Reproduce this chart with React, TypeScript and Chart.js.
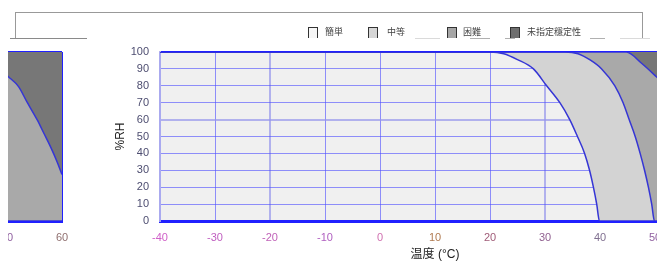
import React, { useEffect, useRef } from 'react';
import { Chart, registerables } from 'chart.js';

Chart.register(...registerables);

// ---- data ----
const X_MIN = -40;
const X_MAX = 60;
const X_STEP = 10;
const Y_MIN = 0;
const Y_MAX = 100;
const Y_STEP = 10;

// boundary 簡単 / 中等
const CURVE1_T = [-40, 20, 22.5, 25, 27.9, 30.3, 32.7, 34.5, 35.9, 37.2, 38.1, 38.8, 39.4, 39.9, 60];
const CURVE1_RH = [100, 100, 99, 95.5, 90, 80, 70, 60, 50, 40, 30, 20, 10, 0, 0];
// boundary 中等 / 困難
const CURVE2_T = [-40, 33.6, 36, 38.2, 40.3, 42.7, 44.2, 45.3, 46.4, 47.3, 48.1, 48.8, 49.4, 49.9, 60];
const CURVE2_RH = [100, 100, 99, 95.3, 90, 80, 70, 60, 50, 40, 30, 20, 10, 0, 0];
// boundary 困難 / 未指定穩定性
const CURVE3_T = [-40, 44.8, 47.5, 50.2, 52.1, 53.6, 55.5, 56.7, 57.9, 59.1, 60];
const CURVE3_RH = [100, 100, 93.5, 85.5, 79.5, 70.6, 59.8, 51.9, 44, 35.1, 27.5];

const SERIES_LABELS = ['簡単', '中等', '困難', '未指定穩定性'];
const X_TITLE = '温度 (°C)';
const Y_TITLE = '%RH';

// ---- styles ----
const FONT = "'Liberation Sans', Arial, 'Noto Sans CJK JP', sans-serif";
const REGION_COLORS = ['#f0f0f0', '#d3d3d3', '#a9a9a9', '#777777'];
const LEGEND_FILLS = ['#f6f6f6', '#d6d6d6', '#a6a6a6', '#6e6e6e'];
const X_TICK_COLORS = ['#d060c8', '#c060c0', '#c062b8', '#b060c0', '#d070b0', '#b07a50', '#a05c78', '#906090', '#807090', '#9060a0', '#907070'];
const CURVE_COLOR = '#3535d5';
const BLUE = '#2020ff';
const GRID = 'rgba(80,80,255,0.62)';
const GRID_LIGHT = 'rgba(150,150,235,0.7)';

const bgPlugin = {
  id: 'plotBg',
  beforeDraw(chart: any) {
    const { ctx, chartArea } = chart;
    if (!chartArea) return;
    ctx.save();
    ctx.fillStyle = REGION_COLORS[0];
    ctx.fillRect(chartArea.left, chartArea.top, chartArea.right - chartArea.left, chartArea.bottom - chartArea.top);
    ctx.restore();
  },
};

function pts(t: number[], rh: number[]) {
  return t.map((x, i) => ({ x, y: rh[i] }));
}

function makeConfig(): any {
  const ds = (label: string, t: number[], rh: number[], color: string, order: number) => ({
    label,
    data: pts(t, rh),
    fill: 'end',
    backgroundColor: color,
    borderColor: CURVE_COLOR,
    borderWidth: 1.5,
    pointRadius: 0,
    order,
    cubicInterpolationMode: 'monotone',
  });
  return {
    type: 'line',
    data: {
      datasets: [
        ds(SERIES_LABELS[1], CURVE1_T, CURVE1_RH, REGION_COLORS[1], 3),
        ds(SERIES_LABELS[2], CURVE2_T, CURVE2_RH, REGION_COLORS[2], 2),
        ds(SERIES_LABELS[3], CURVE3_T, CURVE3_RH, REGION_COLORS[3], 1),
      ],
    },
    options: {
      responsive: false,
      animation: false,
      events: [],
      layout: { padding: { left: 110, right: 10, top: 52, bottom: 0 } },
      plugins: { legend: { display: false }, tooltip: { enabled: false } },
      scales: {
        x: {
          type: 'linear',
          min: X_MIN,
          max: X_MAX,
          z: 1,
          afterFit: (s: any) => {
            s.height = 43;
            s.paddingLeft = 0;
            s.paddingRight = 0;
          },
          ticks: {
            stepSize: X_STEP,
            padding: 10,
            maxRotation: 0,
            color: (c: any) => X_TICK_COLORS[c.index % X_TICK_COLORS.length],
            font: { size: 11, family: FONT },
          },
          grid: {
            drawTicks: false,
            color: (c: any) => {
              const v = c.tick?.value;
              if (v === X_MAX) return BLUE;
              if (v === -40 || v === -20 || v === 30) return GRID_LIGHT;
              return GRID;
            },
            lineWidth: (c: any) => {
              const v = c.tick?.value;
              if (v === X_MAX || v === -40 || v === -20 || v === 30) return 2;
              return 1;
            },
          },
          border: { color: BLUE, width: 3 },
          title: {
            display: true,
            text: X_TITLE,
            color: '#222',
            font: { size: 12, family: FONT },
            padding: { top: 4, bottom: 2 },
          },
        },
        y: {
          type: 'linear',
          min: Y_MIN,
          max: Y_MAX,
          z: 1,
          afterFit: (s: any) => {
            s.width = 50;
            s.paddingTop = 0;
            s.paddingBottom = 0;
          },
          ticks: {
            stepSize: Y_STEP,
            padding: 11,
            color: '#4d4d70',
            font: { size: 11, family: FONT },
          },
          grid: {
            drawTicks: false,
            color: (c: any) => {
              const v = c.tick?.value;
              if (v === Y_MAX || v === Y_MIN) return BLUE;
              if (v === 60) return GRID_LIGHT;
              return GRID;
            },
            lineWidth: (c: any) => {
              const v = c.tick?.value;
              if (v === Y_MAX || v === Y_MIN) return 2;
              if (v === 60) return 2;
              return 1;
            },
          },
          border: { color: 'rgba(170,170,240,0.9)', width: 2 },
          title: {
            display: true,
            text: Y_TITLE,
            color: '#222',
            font: { size: 12, family: FONT },
            padding: { top: 3, bottom: 4 },
          },
        },
      },
    },
    plugins: [bgPlugin],
  };
}

const LEGEND_SQUARE_X = [308, 368, 447, 510];
const LEGEND_TEXT_X = [325, 387, 463, 527];
const FRAGMENTS: [number, number, string][] = [
  [10, 87, '#8a8a8a'],
  [415, 440, '#dadada'],
  [470, 490, '#b0b0b0'],
  [505, 515, '#b0b0b0'],
  [590, 605, '#b0b0b0'],
  [620, 650, '#dadada'],
];

export default function App() {
  const mainRef = useRef<HTMLCanvasElement>(null);
  const wrapRef = useRef<HTMLCanvasElement>(null);

  useEffect(() => {
    const a = new Chart(mainRef.current as HTMLCanvasElement, makeConfig());
    const b = new Chart(wrapRef.current as HTMLCanvasElement, makeConfig());
    return () => {
      a.destroy();
      b.destroy();
    };
  }, []);

  return (
    <div style={{ position: 'fixed', left: 0, top: 0, width: 657, height: 264, overflow: 'hidden', background: '#fff' }}>
      <canvas ref={mainRef} width={720} height={264} style={{ position: 'absolute', left: 0, top: 0, width: 720, height: 264 }} />
      <div style={{ position: 'absolute', left: 8, top: 0, width: 70, height: 264, overflow: 'hidden' }}>
        <canvas ref={wrapRef} width={720} height={264} style={{ position: 'absolute', left: -656, top: 0, width: 720, height: 264 }} />
      </div>
      {/* legend box */}
      <div style={{ position: 'absolute', left: 15, top: 12, width: 626, height: 26, borderLeft: '1px solid #999', borderTop: '1px solid #999', borderRight: '1px solid #999' }} />
      {FRAGMENTS.map(([x0, x1, c], i) => (
        <div key={'f' + i} style={{ position: 'absolute', left: x0, top: 38, width: x1 - x0, height: 1, background: c }} />
      ))}
      <div style={{ position: 'absolute', left: 0, top: 0, width: 657, height: 38, overflow: 'hidden' }}>
        {SERIES_LABELS.map((lab, i) => (
          <React.Fragment key={lab}>
            <div style={{ position: 'absolute', left: LEGEND_SQUARE_X[i], top: 27, width: 8, height: 14, border: '1px solid #333', background: LEGEND_FILLS[i] }} />
            <span style={{ position: 'absolute', left: LEGEND_TEXT_X[i], top: 28, fontSize: 9, lineHeight: '9px', fontFamily: FONT, color: '#444', whiteSpace: 'nowrap' }}>{lab}</span>
          </React.Fragment>
        ))}
      </div>
    </div>
  );
}
